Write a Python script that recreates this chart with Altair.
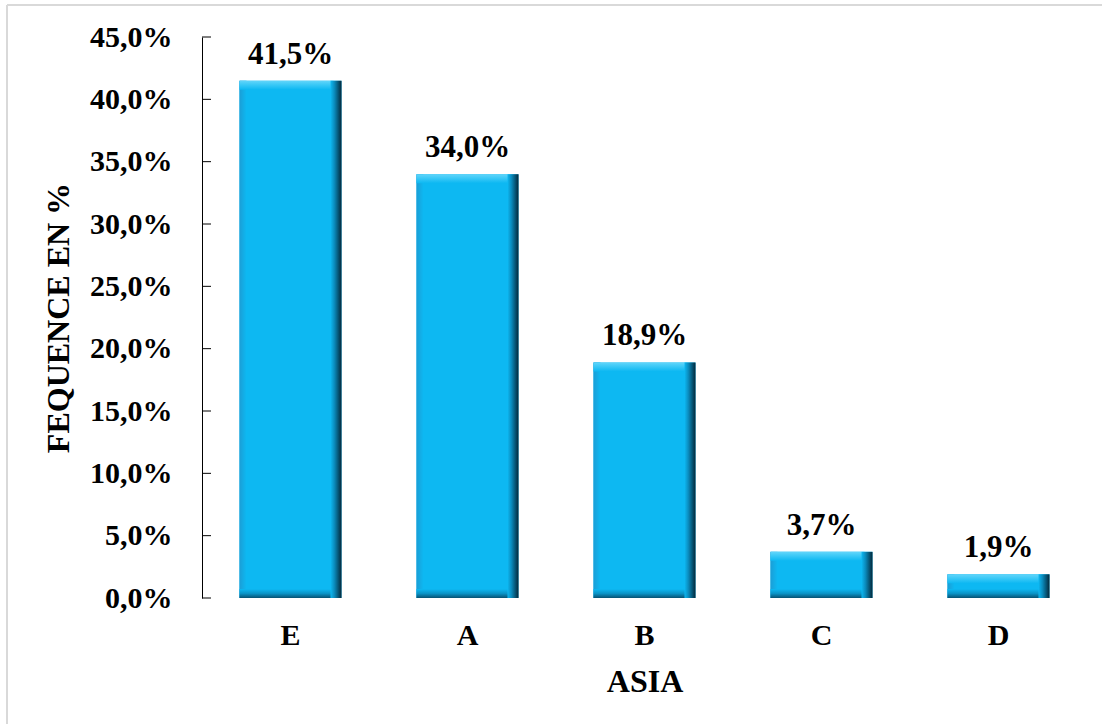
import altair as alt
import pandas as pd

# Frequency of each ASIA class, in percent
categories = ["E", "A", "B", "C", "D"]
values = [41.5, 34.0, 18.9, 3.7, 1.9]
value_labels = ["41,5%", "34,0%", "18,9%", "3,7%", "1,9%"]
y_tick_values = [0, 5, 10, 15, 20, 25, 30, 35, 40, 45]

df = pd.DataFrame({"cat": categories, "val": values, "lab": value_labels})
ticks_df = pd.DataFrame({"t": y_tick_values})

FONT = "Liberation Serif"
BAR_W = 102
FACE = "#0DB8F2"

x_scale = alt.Scale(domain=categories, paddingInner=0, paddingOuter=0)
x_enc = alt.X(
    "cat:N",
    sort=categories,
    scale=x_scale,
    axis=alt.Axis(
        title="ASIA",
        domain=False,
        ticks=False,
        labelAngle=0,
        labelFont=FONT,
        labelFontWeight="bold",
        labelFontSize=30,
        labelColor="black",
        labelPadding=22,
        titleFont=FONT,
        titleFontWeight="bold",
        titleFontSize=32,
        titleColor="black",
        titlePadding=16,
    ),
)
x_plain = alt.X("cat:N", sort=categories, scale=x_scale)

y_scale = alt.Scale(domain=[0, 45], nice=False)
y_enc = alt.Y(
    "val:Q",
    scale=y_scale,
    axis=alt.Axis(
        title="FEQUENCE EN %",
        values=y_tick_values,
        labelExpr="replace(format(datum.value, '.1f'), '.', ',') + '%'",
        domain=True,
        domainColor="black",
        domainWidth=1,
        ticks=False,
        grid=False,
        labelFont=FONT,
        labelFontWeight="bold",
        labelFontSize=30,
        labelColor="black",
        labelPadding=30,
        titleFont=FONT,
        titleFontWeight="bold",
        titleFontSize=32,
        titleColor="black",
        titlePadding=14,
    ),
)
y_plain = alt.Y("val:Q", scale=y_scale)


def grad(stops, horizontal):
    return alt.Gradient(
        gradient="linear",
        x1=0, y1=0,
        x2=1 if horizontal else 0,
        y2=0 if horizontal else 1,
        stops=[alt.GradientStop(color=c, offset=o) for o, c in stops],
    )


base = alt.Chart(df)

# bar face
face = base.mark_bar(width=BAR_W, color=FACE).encode(x=x_enc, y=y_enc, y2=alt.datum(0))

# bevelled edges
left_edge = base.mark_bar(width=7, xOffset=-(BAR_W / 2 - 3.5),
                          color=grad([(0, "#1B9ED6"), (1, FACE)], True)).encode(
    x=x_plain, y=y_plain, y2=alt.datum(0))
top_edge = base.mark_bar(width=BAR_W - 8, xOffset=-4, y2Offset=9,
                         color=grad([(0, "#63D5FA"), (0.4, "#3FCAF7"), (1, FACE)], False)).encode(
    x=x_plain, y=y_plain, y2="val:Q")
bottom_edge = base.mark_bar(width=BAR_W - 8, xOffset=-4, yOffset=-9,
                            color=grad([(0, FACE), (0.5, "#0A93C6"), (1, "#065273")], False)).encode(
    x=x_plain, y=alt.datum(0, scale=y_scale), y2=alt.datum(0))
right_edge = base.mark_bar(width=11, xOffset=BAR_W / 2 - 5.5,
                           color=grad([(0, FACE), (0.35, "#0A8CBE"), (1, "#03283A")], True)).encode(
    x=x_plain, y=y_plain, y2=alt.datum(0))

labels = base.mark_text(
    font=FONT, fontWeight="bold", fontSize=31, color="black",
    baseline="alphabetic", dy=-17,
).encode(x=x_plain, y=y_plain, text="lab:N")

# inward tick marks on the value axis
tick_marks = alt.Chart(ticks_df).mark_rule(color="black", strokeWidth=1).encode(
    y=alt.Y("t:Q", scale=y_scale), x=alt.value(0), x2=alt.value(9)
)

# light frame around the figure
frame_left = alt.Chart(ticks_df.head(1)).mark_rule(color="#D9D9D9", strokeWidth=2).encode(
    x=alt.value(-195), y=alt.value(-32), y2=alt.value(700)
)
frame_top = alt.Chart(ticks_df.head(1)).mark_rule(color="#D9D9D9", strokeWidth=2).encode(
    x=alt.value(-195), x2=alt.value(1000), y=alt.value(-32)
)

chart = alt.layer(
    frame_left, frame_top, face, left_edge, top_edge, bottom_edge, right_edge, labels, tick_marks
).properties(
    width=885,
    height=561,
    autosize=alt.AutoSizeParams(type="none"),
    padding={"left": 202, "top": 37, "right": 15, "bottom": 126},
    background="white",
).configure_view(stroke=None)

chart.save("out.html", embed_options={"renderer": "svg", "actions": False})
